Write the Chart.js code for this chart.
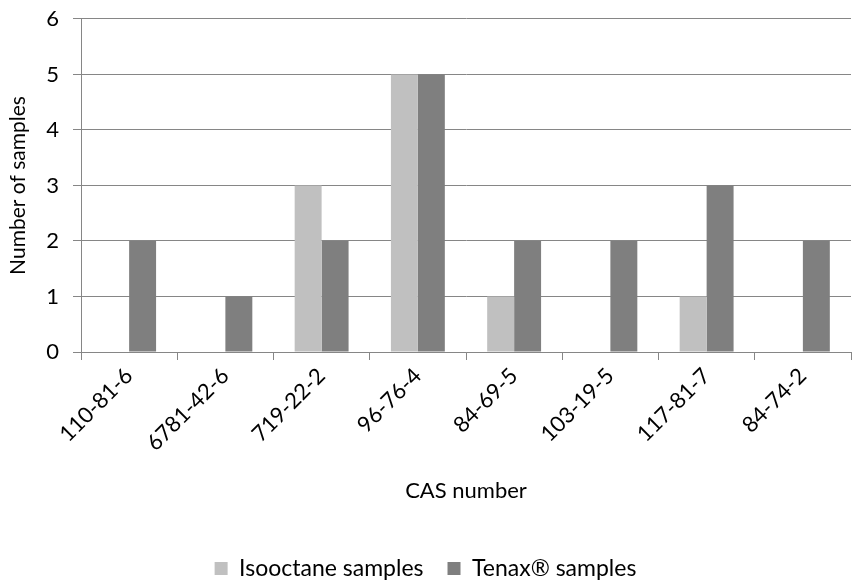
<!DOCTYPE html>
<html>
<head>
<meta charset="utf-8">
<script src="https://cdn.jsdelivr.net/npm/chart.js@4"></script>
<style>
  body { margin: 0; background: #fff; }
  #wrap { width: 852px; height: 583px; }
</style>
</head>
<body>
<div id="wrap"><canvas id="casChart" width="852" height="583"></canvas></div>
<script>
var casNumbers = ["110-81-6", "6781-42-6", "719-22-2", "96-76-4", "84-69-5", "103-19-5", "117-81-7", "84-74-2"];
var isooctaneSamples = [0, 0, 3, 5, 1, 0, 1, 0];
var tenaxSamples = [2, 1, 2, 5, 2, 2, 3, 2];
var yTicks = [0, 1, 2, 3, 4, 5, 6];

var fontFamily = "Lato, 'Open Sans', sans-serif";
var axisColor = "#868686";

var ctx = document.getElementById("casChart");
new Chart(ctx, {
    type: 'bar',
    data: {
        labels: casNumbers,
        datasets: [{
            label: "Isooctane samples",
            data: isooctaneSamples,
            backgroundColor: "#c0c0c0",
            categoryPercentage: 0.56,
            barPercentage: 1
        }, {
            label: "Tenax\u00ae samples",
            data: tenaxSamples,
            backgroundColor: "#7f7f7f",
            categoryPercentage: 0.56,
            barPercentage: 1
        }]
    },
    options: {
        responsive: false,
        animation: false,
        layout: { padding: { top: 0, right: 1, left: 0, bottom: -7 } },
        plugins: {
            legend: {
                position: 'bottom',
                labels: {
                    color: "#000",
                    font: { family: fontFamily, size: 23 },
                    boxWidth: 13,
                    boxHeight: 13,
                    padding: 24
                }
            },
            tooltip: { enabled: false }
        },
        scales: {
            x: {
                grid: {
                    display: true,
                    drawOnChartArea: false,
                    drawTicks: true,
                    tickLength: 8,
                    color: axisColor
                },
                border: { color: axisColor },
                ticks: {
                    color: "#000",
                    minRotation: 45,
                    maxRotation: 45,
                    font: { family: fontFamily, size: 22 }
                },
                title: {
                    display: true,
                    text: "CAS number",
                    color: "#000",
                    font: { family: fontFamily, size: 22 },
                    padding: { top: 6, bottom: 29 }
                },
                afterFit: function(scale) { scale.height = 181; }
            },
            y: {
                min: 0,
                max: 6,
                afterBuildTicks: function(scale) {
                    scale.ticks = yTicks.map(function(v) { return { value: v }; });
                },
                grid: {
                    color: axisColor,
                    tickLength: 8
                },
                border: { color: axisColor },
                ticks: {
                    color: "#000",
                    padding: 14,
                    font: { family: fontFamily, size: 22, lineHeight: 0.45 }
                },
                title: {
                    display: true,
                    text: "Number of samples",
                    color: "#000",
                    font: { family: fontFamily, size: 21 },
                    padding: { top: 6, bottom: 4 }
                },
                afterFit: function(scale) { scale.width = 81; }
            }
        }
    }
});
</script>
</body>
</html>
